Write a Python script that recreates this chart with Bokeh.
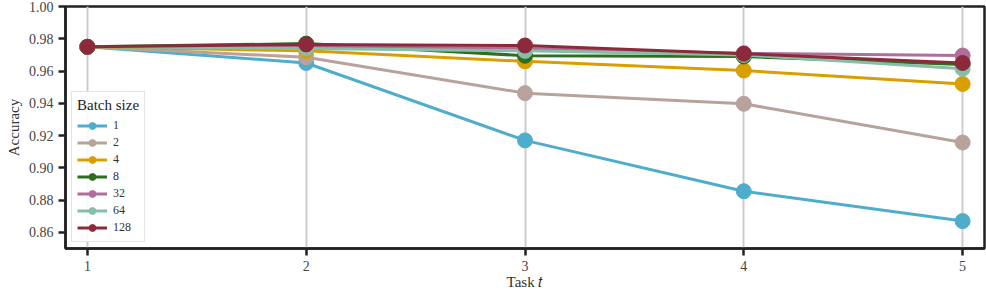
from bokeh.plotting import figure
from bokeh.models import Range1d, FixedTicker, Legend, LegendItem, NumeralTickFormatter
from bokeh.embed import file_html
from bokeh.resources import INLINE

tasks = [1, 2, 3, 4, 5]
batch_labels = ["1", "2", "4", "8", "32", "64", "128"]
acc_b1 = [0.975, 0.965, 0.917, 0.8855, 0.867]
acc_b2 = [0.975, 0.9685, 0.9463, 0.9397, 0.9157]
acc_b4 = [0.975, 0.9725, 0.966, 0.9603, 0.952]
acc_b8 = [0.975, 0.977, 0.9695, 0.969, 0.964]
acc_b32 = [0.975, 0.975, 0.974, 0.971, 0.9696]
acc_b64 = [0.975, 0.974, 0.9725, 0.970, 0.9614]
acc_b128 = [0.975, 0.9765, 0.9758, 0.9707, 0.965]
y_ticks = [0.86, 0.88, 0.90, 0.92, 0.94, 0.96, 0.98, 1.00]

series = [acc_b1, acc_b2, acc_b4, acc_b8, acc_b32, acc_b64, acc_b128]
colors = ["#4fadcc", "#b7a39b", "#d99f00", "#2f6d1f", "#b06e9a", "#86bfa7", "#8c2a3b"]

FONT = "Liberation Serif"

p = figure(width=986, height=294, output_backend="svg", toolbar_location=None,
           x_range=Range1d(0.9, 5.1), y_range=Range1d(0.85, 1.0),
           min_border_left=65, min_border_right=2, min_border_top=6, min_border_bottom=46)

p.background_fill_color = "white"
p.outline_line_color = "#222222"
p.outline_line_width = 2.5
p.outline_line_alpha = 1.0

p.xaxis.ticker = FixedTicker(ticks=tasks)
p.yaxis.ticker = FixedTicker(ticks=y_ticks)
p.yaxis.formatter = NumeralTickFormatter(format="0.00")

for ax in [p.xaxis[0], p.yaxis[0]]:
    ax.axis_line_color = "#222222"
    ax.axis_line_width = 2.5
    ax.major_tick_line_color = "#222222"
    ax.major_tick_line_width = 2.5
    ax.major_tick_out = 7
    ax.major_tick_in = 0
    ax.minor_tick_line_color = None
    ax.major_label_text_font = FONT
    ax.major_label_text_font_size = "14px"
    ax.major_label_text_color = "#444444"
    ax.axis_label_text_font = FONT
    ax.axis_label_text_font_size = "15px"
    ax.axis_label_text_font_style = "normal"
    ax.axis_label_text_color = "#333333"

p.yaxis.axis_label = "Accuracy"
p.yaxis.axis_label_standoff = 4
p.yaxis.major_label_standoff = 5
p.xaxis.axis_label = "Task \U0001D461"
p.xaxis.axis_label_standoff = 0
p.xaxis.major_label_standoff = 5

p.xgrid.grid_line_color = "#cccccc"
p.xgrid.grid_line_width = 2
p.ygrid.grid_line_color = None

items = []
for lab, vals, col in zip(batch_labels, series, colors):
    ln = p.line(tasks, vals, line_color=col, line_width=3)
    sc = p.scatter(tasks, vals, size=15, fill_color=col, line_color=col, line_width=1)
    items.append(LegendItem(label=lab, renderers=[ln, sc]))

legend = Legend(items=items, location="bottom_left")
legend.title = "Batch size"
legend.title_text_font = FONT
legend.title_text_font_size = "15px"
legend.title_text_font_style = "normal"
legend.title_text_color = "#222222"
legend.title_standoff = 3
legend.label_text_font = FONT
legend.label_text_font_size = "12px"
legend.label_text_color = "#333333"
legend.label_height = 17
legend.glyph_height = 17
legend.glyph_width = 30
legend.spacing = 0
legend.padding = 5
legend.margin = 6
legend.label_standoff = 6
legend.border_line_color = "#cccccc"
legend.border_line_width = 1.5
legend.background_fill_alpha = 0.85
p.add_layout(legend)

open("out.html", "w").write(file_html(p, INLINE))
